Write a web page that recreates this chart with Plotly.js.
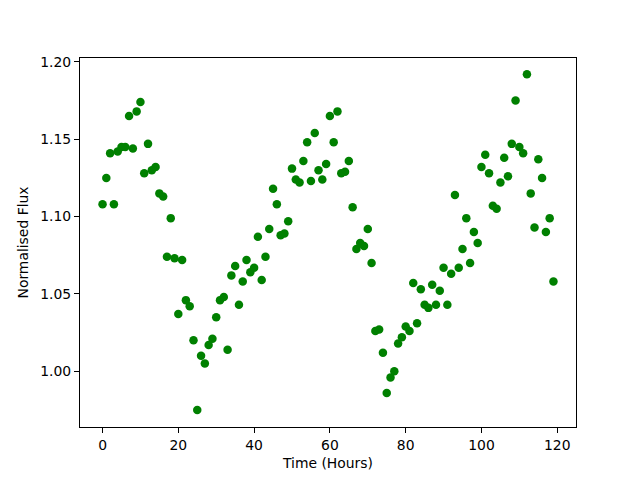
<!DOCTYPE html>
<html>
<head>
<meta charset="utf-8">
<script src="https://cdn.plot.ly/plotly-3.0.1.min.js"></script>
<style>html,body{margin:0;padding:0;background:#fff;}#plot{width:640px;height:480px;}</style>
</head>
<body>
<div id="plot"></div>
<script>
const hours = [];
for (let i = 0; i < 120; i++) hours.push(i);
const flux = [
1.108,1.125,1.141,1.108,1.142,1.145,1.145,1.165,1.144,1.168,
1.174,1.128,1.147,1.130,1.132,1.115,1.113,1.074,1.099,1.073,
1.037,1.072,1.046,1.042,1.020,0.975,1.010,1.005,1.017,1.021,
1.035,1.046,1.048,1.014,1.062,1.068,1.043,1.058,1.072,1.064,
1.067,1.087,1.059,1.074,1.092,1.118,1.108,1.088,1.089,1.097,
1.131,1.124,1.122,1.136,1.148,1.123,1.154,1.130,1.124,1.134,
1.165,1.148,1.168,1.128,1.129,1.136,1.106,1.079,1.083,1.081,
1.092,1.070,1.026,1.027,1.012,0.986,0.996,1.000,1.018,1.022,
1.029,1.026,1.057,1.031,1.053,1.043,1.041,1.056,1.043,1.052,
1.067,1.043,1.063,1.114,1.067,1.079,1.099,1.070,1.090,1.083,
1.132,1.140,1.128,1.107,1.105,1.122,1.138,1.126,1.147,1.175,
1.145,1.141,1.192,1.115,1.093,1.137,1.125,1.090,1.099,1.058
];
const xTicks = [0,20,40,60,80,100,120];
const yTicks = [1.00,1.05,1.10,1.15,1.20];

const font = {family:'DejaVu Sans', size:13.9, color:'#000'};
const axisCommon = {
  showgrid:false, zeroline:false, showline:true, linecolor:'#000', linewidth:1,
  mirror:true, ticks:'outside', ticklen:5, tickwidth:1, tickcolor:'#000',
  tickfont:font
};
Plotly.newPlot('plot', [{
  x: hours, y: flux, type:'scatter', mode:'markers',
  marker:{color:'#008000', size:8.5}
}], {
  width:640, height:480,
  margin:{l:80, r:64, t:58, b:53},
  paper_bgcolor:'#fff', plot_bgcolor:'#fff',
  showlegend:false,
  xaxis: Object.assign({}, axisCommon, {
    range:[-5.95,124.95], tickvals:xTicks, ticktext:xTicks.map(String),
    title:{text:'Time (Hours)', font:font, standoff:6}
  }),
  yaxis: Object.assign({}, axisCommon, {
    range:[0.964,1.2025], tickvals:yTicks, ticktext:yTicks.map(v=>v.toFixed(2)),
    title:{text:'Normalised Flux', font:font, standoff:8}
  })
}, {staticPlot:true});
</script>
</body>
</html>
